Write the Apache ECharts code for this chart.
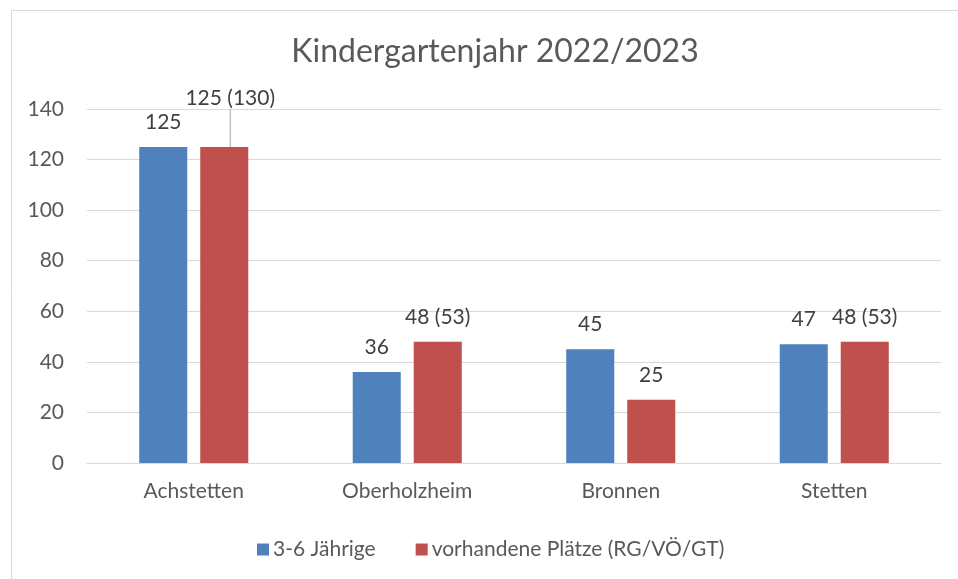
<!DOCTYPE html>
<html>
<head>
<meta charset="utf-8">
<script src="https://cdn.jsdelivr.net/npm/echarts@6/dist/echarts.min.js"></script>
<style>
html,body{margin:0;padding:0;background:#fff;}
#chart{width:958px;height:579px;}
</style>
</head>
<body>
<div id="chart"></div>
<script>
var titleText = 'Kindergartenjahr 2022/2023';
var categories = ['Achstetten', 'Oberholzheim', 'Bronnen', 'Stetten'];
var seriesNames = ['3-6 Jährige', 'vorhandene Plätze (RG/VÖ/GT)'];
var kids = [125, 36, 45, 47];
var places = [125, 48, 25, 48];
var placesLabels = ['125 (130)', '48 (53)', '25', '48 (53)'];
var yTicks = [0, 20, 40, 60, 80, 100, 120, 140];

var FONT = 'Lato';
var FS = 21;
var chart = echarts.init(document.getElementById('chart'), null, {renderer: 'canvas'});

var option = {
  backgroundColor: '#ffffff',
  animation: false,
  textStyle: {fontFamily: FONT},
  title: {
    text: titleText,
    left: 490,
    textAlign: 'center',
    top: 31,
    textStyle: {fontFamily: FONT, fontSize: 32, fontWeight: 'normal', color: '#595959'}
  },
  graphic: [{
    type: 'rect',
    shape: {x: 11.5, y: 10.5, width: 1000, height: 700},
    style: {fill: 'none', stroke: '#d9d9d9', lineWidth: 1},
    silent: true
  }],
  legend: {
    data: seriesNames,
    left: 252,
    top: 534,
    itemWidth: 12,
    itemHeight: 12,
    itemGap: 40,
    icon: 'rect',
    textStyle: {fontFamily: FONT, fontSize: FS, color: '#595959', padding: [0, 0, 0, -1]}
  },
  grid: {left: 87, right: 17, top: 109, bottom: 116, containLabel: false},
  xAxis: {
    type: 'category',
    data: categories,
    axisLine: {lineStyle: {color: '#d9d9d9', width: 1}},
    axisTick: {show: false},
    axisLabel: {fontFamily: FONT, fontSize: FS, color: '#595959', margin: 18}
  },
  yAxis: {
    type: 'value',
    min: yTicks[0],
    max: yTicks[yTicks.length - 1],
    interval: yTicks[1] - yTicks[0],
    axisLine: {show: false},
    axisTick: {show: false},
    splitLine: {lineStyle: {color: '#d9d9d9', width: 1}},
    axisLabel: {fontFamily: FONT, fontSize: FS, color: '#595959', margin: 23}
  },
  series: [
    {
      name: seriesNames[0],
      type: 'bar',
      data: kids,
      barWidth: '22.5%',
      barGap: '27%',
      itemStyle: {color: '#4f81bd'},
      label: {show: true, position: 'top', distance: 14, fontFamily: FONT, fontSize: FS, color: '#404040'}
    },
    {
      name: seriesNames[1],
      type: 'bar',
      data: places.map(function (v, i) {
        return i === 0 ? {value: v, labelLine: {show: true}} : v;
      }),
      barWidth: '22.5%',
      barGap: '27%',
      itemStyle: {color: '#c0504d'},
      label: {
        show: true, position: 'top', distance: 14, fontFamily: FONT, fontSize: FS, color: '#404040',
        formatter: function (p) { return placesLabels[p.dataIndex]; }
      },
      labelLine: {show: false, lineStyle: {color: '#a6a6a6', width: 1}},
      labelLayout: function (p) {
        if (p.dataIndex === 0) { return {dx: 6, dy: -24}; }
        return {};
      }
    }
  ]
};
chart.setOption(option);
</script>
</body>
</html>
